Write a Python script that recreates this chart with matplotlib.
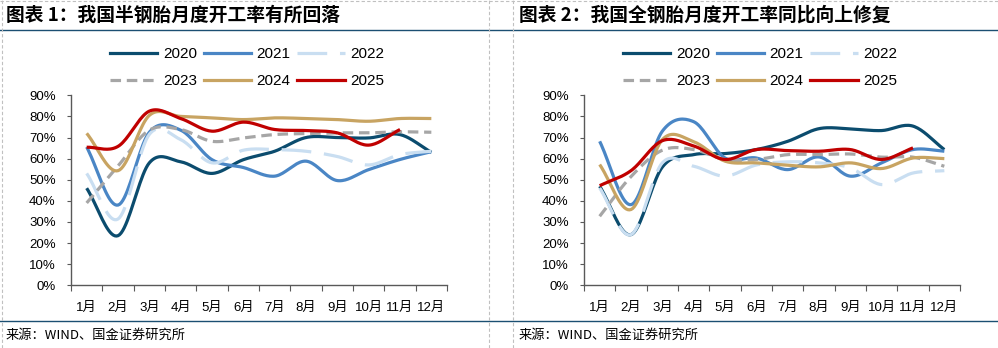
import matplotlib
matplotlib.use("Agg")
import matplotlib.pyplot as plt
from matplotlib.lines import Line2D
import numpy as np

plt.rcParams['font.family'] = ['Liberation Sans', 'Noto Sans CJK SC', 'DejaVu Sans']

months = ['1月', '2月', '3月', '4月', '5月', '6月', '7月', '8月', '9月', '10月', '11月', '12月']
years = ['2020', '2021', '2022', '2023', '2024', '2025']

# 半钢胎开工率 (%)
semi_2020 = [46, 23.5, 58, 58.5, 53, 59.5, 63.5, 70, 70, 69.8, 71.4, 63]
semi_2021 = [65.5, 38, 72.5, 73.5, 59.5, 55.8, 51.7, 58.8, 49.6, 54.8, 59.6, 63.3]
semi_2022 = [53, 31.4, 71.5, 69, 58, 64, 64.3, 63.5, 61, 57, 61.9, 63.5]
semi_2023 = [39, 56.5, 73.5, 73.8, 68.2, 69.8, 71.4, 71.9, 72.2, 72.2, 72.7, 72.5]
semi_2024 = [72, 54.3, 80.5, 80, 79.3, 78.5, 79.3, 79, 78.5, 77.7, 79, 79]
semi_2025 = [65.4, 65.8, 82.5, 79, 73, 77.3, 73.8, 73.3, 72.2, 66.4, 73.8]

# 全钢胎开工率 (%)
full_2020 = [46.9, 24, 56, 61.9, 62.4, 64.3, 68.2, 74.2, 74.1, 73.3, 75.4, 64.3]
full_2021 = [68.2, 38.2, 73, 77.5, 60.3, 60.3, 54.8, 60.8, 51.7, 58, 64.3, 63.5]
full_2022 = [46.1, 24, 58, 56.4, 51.7, 57, 58.5, 58, 55.6, 47.7, 53.2, 54.3]
full_2023 = [32.7, 51.5, 64, 64.3, 59.6, 59.6, 61.9, 61.9, 62.2, 60.7, 60.7, 56.4]
full_2024 = [57.2, 35.9, 69, 68, 58.8, 58, 56.9, 56.1, 58, 55.3, 60.3, 60]
full_2025 = [47.2, 54.3, 68.5, 66, 59.6, 64.3, 63.8, 63.5, 64.3, 59.6, 65.1]

colors = ['#0B4C6E', '#4A86C5', '#C9DEF1', '#A6A6A6', '#C8A462', '#C00000']
styles = ['-', '-', (0, (9.3, 4)), (0, (3.3, 1.8)), '-', '-']


def smooth(y, n=20):
    # Catmull-Rom curve through the points, like Excel's smoothed line
    y = np.asarray(y, dtype=float)
    x = np.arange(len(y), dtype=float)
    px = np.concatenate([[2 * x[0] - x[1]], x, [2 * x[-1] - x[-2]]])
    py = np.concatenate([[2 * y[0] - y[1]], y, [2 * y[-1] - y[-2]]])
    xs, ys = [], []
    t = np.linspace(0, 1, n, endpoint=False)
    for i in range(1, len(px) - 2):
        for arr, out in ((px, xs), (py, ys)):
            p0, p1, p2, p3 = arr[i - 1], arr[i], arr[i + 1], arr[i + 2]
            out.extend(0.5 * ((2 * p1) + (-p0 + p2) * t
                              + (2 * p0 - 5 * p1 + 4 * p2 - p3) * t ** 2
                              + (-p0 + 3 * p1 - 3 * p2 + p3) * t ** 3))
    xs.append(x[-1])
    ys.append(y[-1])
    return np.array(xs), np.array(ys)


fig = plt.figure(figsize=(9.98, 3.48), dpi=100)
W, H = 998.0, 348.0


def draw_panel(x0, title, data):
    ax = fig.add_axes([(x0 + 71) / W, 1 - 285.3 / H, 376 / W, 190 / H])
    for i, vals in enumerate(data):
        xs, ys = smooth(vals)
        ax.plot(xs, ys, color=colors[i], linestyle=styles[i], lw=2.3,
                solid_capstyle='butt', zorder=3 + i)
    ax.set_xlim(-0.5, 11.5)
    ax.set_ylim(0, 90)
    ax.set_yticks(range(0, 91, 10))
    ax.set_yticklabels([f'{v}%' for v in range(0, 91, 10)], fontsize=9.5)
    ax.set_xticks(np.arange(-0.5, 12, 1))
    ax.set_xticklabels([])
    ax.set_xticks(range(12), minor=True)
    ax.set_xticklabels(months, minor=True, fontsize=9.5)
    ax.tick_params(axis='x', which='major', direction='out', length=4, color='#595959')
    ax.tick_params(axis='x', which='minor', length=0, pad=12)
    ax.tick_params(axis='y', direction='out', length=3, color='#595959', pad=8)
    for s in ['top', 'right']:
        ax.spines[s].set_visible(False)
    for s in ['left', 'bottom']:
        ax.spines[s].set_color('#595959')
        ax.spines[s].set_linewidth(1.0)

    handles = [Line2D([], [], color=colors[i], linestyle=styles[i], lw=2.3) for i in range(6)]
    order = [0, 3, 1, 4, 2, 5]  # legend fills by column, so reorder to read by row
    fig.legend([handles[k] for k in order], [years[k] for k in order],
               loc='center', ncol=3, frameon=False,
               bbox_to_anchor=((x0 + 247) / W, 1 - 67.5 / H),
               fontsize=11, handlelength=3.1, handletextpad=0.35,
               columnspacing=0.45, labelspacing=0.85)
    fig.text((x0 + 6) / W, 1 - 15 / H, title, fontsize=13.5, fontweight='bold',
             fontstyle='italic', family=['Noto Sans CJK SC', 'DejaVu Sans'],
             va='center', ha='left')
    fig.text((x0 + 6) / W, 1 - 335 / H, '来源：WIND、国金证券研究所', fontsize=9.5,
             family=['Noto Sans CJK SC', 'DejaVu Sans'], va='center', ha='left')


draw_panel(0, '图表 1：我国半钢胎月度开工率有所回落',
           [semi_2020, semi_2021, semi_2022, semi_2023, semi_2024, semi_2025])
draw_panel(513, '图表 2：我国全钢胎月度开工率同比向上修复',
           [full_2020, full_2021, full_2022, full_2023, full_2024, full_2025])

# frame lines
fig.add_artist(Line2D([0, 1], [1 - 29.5 / H, 1 - 29.5 / H], color='#1B4F72', lw=1.0))
fig.add_artist(Line2D([0, 1], [1 - 321 / H, 1 - 321 / H], color='#1B4F72', lw=1.0))
for xv in [1.5, 489, 513]:
    fig.add_artist(Line2D([xv / W, xv / W], [0, 1], color='#C0C0C0', lw=0.8,
                          linestyle=(0, (3, 2))))
fig.add_artist(Line2D([0, 1], [1 - 1 / H, 1 - 1 / H], color='#C0C0C0', lw=0.8,
                      linestyle=(0, (3, 2))))

fig.savefig('out.png', dpi=100)
